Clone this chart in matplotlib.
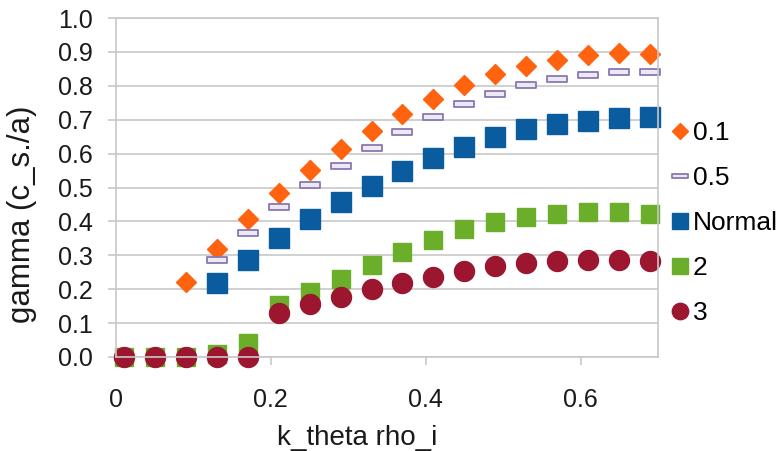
import numpy as np
import matplotlib
matplotlib.use("Agg")
import matplotlib.pyplot as plt
from matplotlib.path import Path

plt.rcParams['font.family'] = ['Liberation Sans', 'DejaVu Sans']

# k_theta rho_i
k = [0.01, 0.05, 0.09, 0.13, 0.17, 0.21, 0.25, 0.29, 0.33, 0.37,
     0.41, 0.45, 0.49, 0.53, 0.57, 0.61, 0.65, 0.69]

nan = np.nan
g_01 = [nan, nan, 0.222, 0.320, 0.406, 0.485, 0.552, 0.613, 0.667, 0.717,
        0.762, 0.802, 0.835, 0.859, 0.877, 0.891, 0.896, 0.893]
g_05 = [nan, nan, nan, 0.286, 0.367, 0.442, 0.506, 0.564, 0.617, 0.665,
        0.707, 0.745, 0.777, 0.802, 0.821, 0.833, 0.840, 0.841]
g_norm = [nan, nan, nan, 0.219, 0.286, 0.350, 0.407, 0.458, 0.505, 0.549,
          0.586, 0.620, 0.650, 0.672, 0.687, 0.697, 0.704, 0.707]
g_2 = [0.0, 0.0, 0.0, 0.01, 0.04, 0.153, 0.193, 0.229, 0.271, 0.311,
       0.345, 0.377, 0.397, 0.412, 0.421, 0.427, 0.427, 0.422]
g_3 = [0.0, 0.0, 0.0, 0.0, 0.0, 0.131, 0.156, 0.176, 0.200, 0.219,
       0.237, 0.255, 0.269, 0.278, 0.284, 0.286, 0.286, 0.284]

labels = ['0.1', '0.5', 'Normal', '2', '3']

# flat dash marker
dash = Path([(-0.5, -0.13), (0.5, -0.13), (0.5, 0.13), (-0.5, 0.13), (-0.5, -0.13)],
            [Path.MOVETO, Path.LINETO, Path.LINETO, Path.LINETO, Path.CLOSEPOLY])

fig = plt.figure(figsize=(7.8, 4.51), dpi=100)
ax = fig.add_axes([116/780, 1-357/451, 542/780, 339/451])

ax.plot(k, g_01, ls='none', marker='D', ms=9.8, mfc='#ff6310', mec='#ff6310',
        label=labels[0], clip_on=False)
ax.plot(k, g_05, ls='none', marker=dash, ms=14, mfc='#ece8f4', mec='#8a78b0',
        mew=1.3, label=labels[1], clip_on=False)
ax.plot(k, g_norm, ls='none', marker='s', ms=14.2, mfc='#0b5c9e', mec='#0b5c9e',
        label=labels[2], clip_on=False)
ax.plot(k, g_2, ls='none', marker='s', ms=13.2, mfc='#6aae2a', mec='#6aae2a',
        label=labels[3], clip_on=False)
ax.plot(k, g_3, ls='none', marker='o', ms=14.4, mfc='#9c1630', mec='#9c1630',
        label=labels[4], clip_on=False)

ax.set_xlim(0, 0.7)
ax.set_ylim(0, 1.0)
ax.set_xticks([0, 0.2, 0.4, 0.6])
ax.set_xticklabels(['0', '0.2', '0.4', '0.6'])
ax.set_yticks(np.arange(0, 1.01, 0.1))
ax.set_yticklabels([f'{v:.1f}' for v in np.arange(0, 1.01, 0.1)])

ax.grid(axis='y', color='#c8c8c8', lw=1.2)
ax.set_axisbelow(True)
for s in ax.spines.values():
    s.set_color('#c8c8c8')
    s.set_linewidth(1.2)
ax.tick_params(axis='both', colors='#c8c8c8', labelcolor='#1a1a1a',
               labelsize=18, length=6, width=1.2)
ax.tick_params(axis='y', pad=11)
ax.tick_params(axis='x', pad=16)

ax.set_xlabel('k_theta rho_i', fontsize=20, color='#1a1a1a')
ax.xaxis.set_label_coords(0.445, -0.2)
ax.set_ylabel('gamma (c_s./a)', fontsize=22.5, color='#1a1a1a')
ax.yaxis.set_label_coords(-0.146, 0.42)

ax.legend(loc='center left', bbox_to_anchor=(1.026, 0.395), frameon=False,
          fontsize=19, markerscale=0.82, handlelength=0.6, handletextpad=0.19,
          labelspacing=0.8, borderaxespad=0, borderpad=0)

fig.savefig('out.png', dpi=100)
